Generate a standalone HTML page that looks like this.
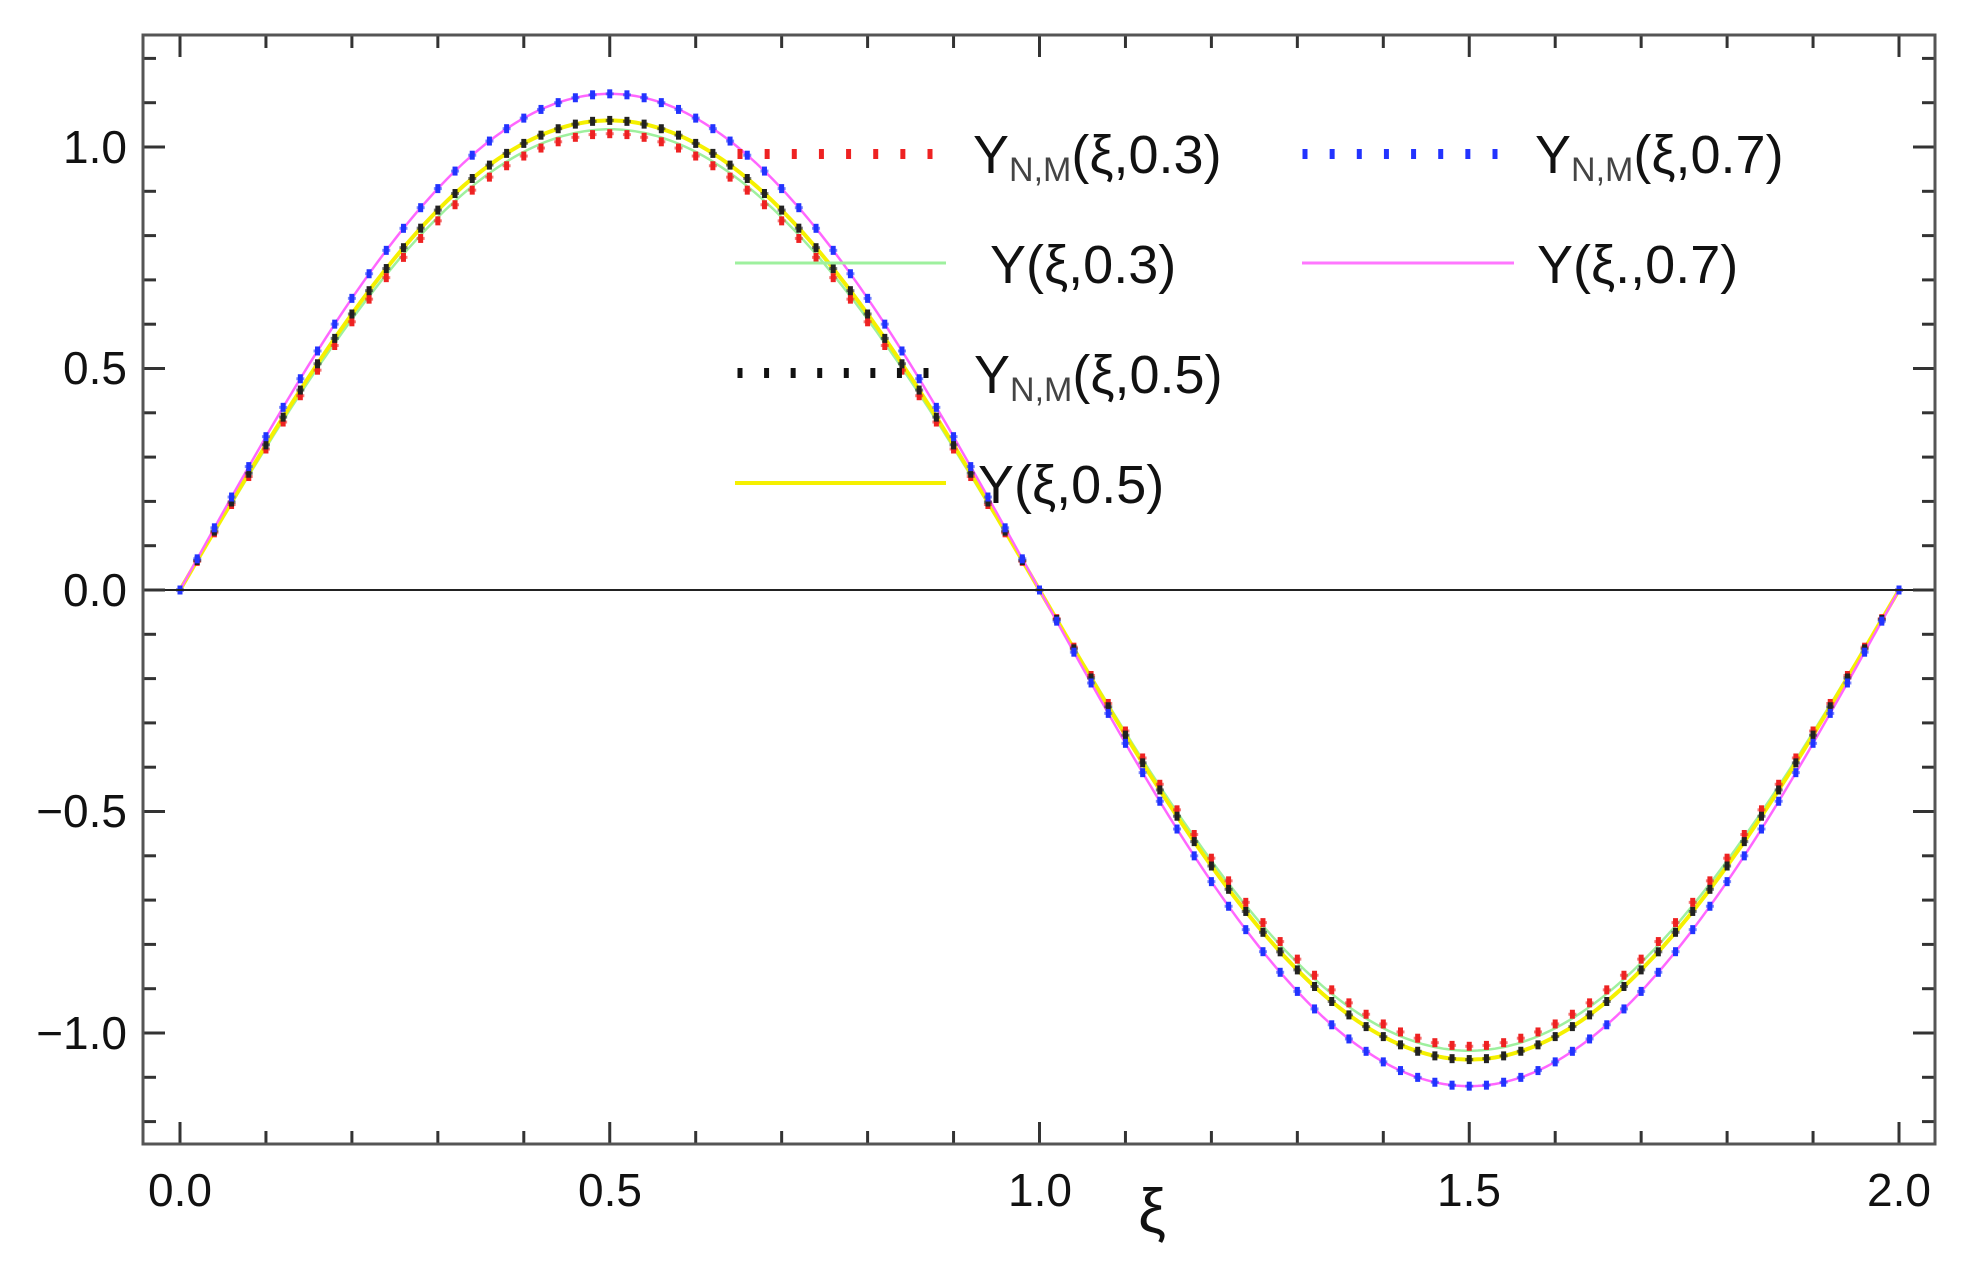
<!DOCTYPE html>
<html><head><meta charset="utf-8">
<style>
html,body{margin:0;padding:0;background:#fff;}
svg{display:block;}
text{font-family:"Liberation Sans","DejaVu Sans",sans-serif;fill:#111;}
</style></head>
<body>
<svg id="s" width="1968" height="1283" viewBox="0 0 1968 1283" xmlns="http://www.w3.org/2000/svg">
<rect x="0" y="0" width="1968" height="1283" fill="#fff"/>
<g id="curves"></g>
<line x1="143" y1="590" x2="1935" y2="590" stroke="#222" stroke-width="2"/>
<g id="ticks" stroke="#333" stroke-width="3"></g>
<rect x="143" y="35" width="1792" height="1109" fill="none" stroke="#555" stroke-width="3"/>
<g font-size="46">
<text x="127" y="163" text-anchor="end">1.0</text>
<text x="127" y="384" text-anchor="end">0.5</text>
<text x="127" y="606" text-anchor="end">0.0</text>
<text x="127" y="827" text-anchor="end">−0.5</text>
<text x="127" y="1049" text-anchor="end">−1.0</text>
<text x="180" y="1206" text-anchor="middle">0.0</text>
<text x="610" y="1206" text-anchor="middle">0.5</text>
<text x="1040" y="1206" text-anchor="middle">1.0</text>
<text x="1469" y="1206" text-anchor="middle">1.5</text>
<text x="1899" y="1206" text-anchor="middle">2.0</text>
</g>
<text x="1152" y="1232" text-anchor="middle" font-size="62">ξ</text>
<g id="legend"></g>
<g font-size="54">
<text x="973" y="173">Y<tspan font-size="34" dy="8" fill="#444">N,M</tspan><tspan dy="-8">(ξ,0.3)</tspan></text>
<text x="990" y="283">Y(ξ,0.3)</text>
<text x="974" y="393">Y<tspan font-size="34" dy="8" fill="#444">N,M</tspan><tspan dy="-8">(ξ,0.5)</tspan></text>
<text x="978" y="503">Y(ξ,0.5)</text>
<text x="1535" y="173">Y<tspan font-size="34" dy="8" fill="#444">N,M</tspan><tspan dy="-8">(ξ,0.7)</tspan></text>
<text x="1537" y="283">Y(ξ.,0.7)</text>
</g>
</svg>
<script>
(function(){
var NS="http://www.w3.org/2000/svg";
function el(t,a,p){var e=document.createElementNS(NS,t);for(var k in a)e.setAttribute(k,a[k]);p.appendChild(e);return e;}
var X=function(x){return 180+x*859.5;}, Y=function(y){return 590-y*443;};
var cg=document.getElementById('curves');
function line(A,col,w){var d="";for(var i=0;i<=400;i++){var x=i/200;d+=(i?"L":"M")+X(x).toFixed(1)+","+Y(A*Math.sin(Math.PI*x)).toFixed(1);}el('path',{d:d,fill:'none',stroke:col,'stroke-width':w},cg);}
function marks(A,col){for(var i=0;i<=100;i++){var x=i/50,px=X(x),py=Y(A*Math.sin(Math.PI*x));el('rect',{x:px-2.5,y:py-4.5,width:5,height:9,fill:col},cg);el('rect',{x:px-4,y:py-1.5,width:8,height:3,fill:col,opacity:0.6},cg);}}
line(1.04,'#9ef09e',2.5);
line(1.06,'#f5f000',4);
line(1.12,'#ff66ff',2.5);
marks(1.03,'#ee2222');
marks(1.06,'#222222');
marks(1.12,'#2233ff');
var tg=document.getElementById('ticks');
for(var i=0;i<=20;i++){var x=X(i/10),maj=(i%5==0);
 el('line',{x1:x,y1:1144,x2:x,y2:1144-(maj?22:13)},tg);
 el('line',{x1:x,y1:35,x2:x,y2:35+(maj?22:13)},tg);}
for(var j=-12;j<=12;j++){var y=Y(j/10),maj=(j%5==0);
 el('line',{x1:143,y1:y,x2:143+(maj?22:13),y2:y},tg);
 el('line',{x1:1935,y1:y,x2:1935-(maj?22:13),y2:y},tg);}
var lg=document.getElementById('legend');
function dots(x1,x2,y,col){for(var k=0;k<8;k++){var x=x1+k*(x2-x1)/7;el('rect',{x:x-2.5,y:y-5,width:5,height:10,fill:col},lg);}}
dots(740,930,154,'#ee2222');
dots(740,926,373,'#111111');
dots(1305,1495,154,'#2233ff');
el('line',{x1:735,y1:263,x2:946,y2:263,stroke:'#9ef09e','stroke-width':3},lg);
el('line',{x1:735,y1:483,x2:946,y2:483,stroke:'#f5f000','stroke-width':4},lg);
el('line',{x1:1302,y1:263,x2:1514,y2:263,stroke:'#ff77ff','stroke-width':3},lg);
})();
</script>
</body></html>
